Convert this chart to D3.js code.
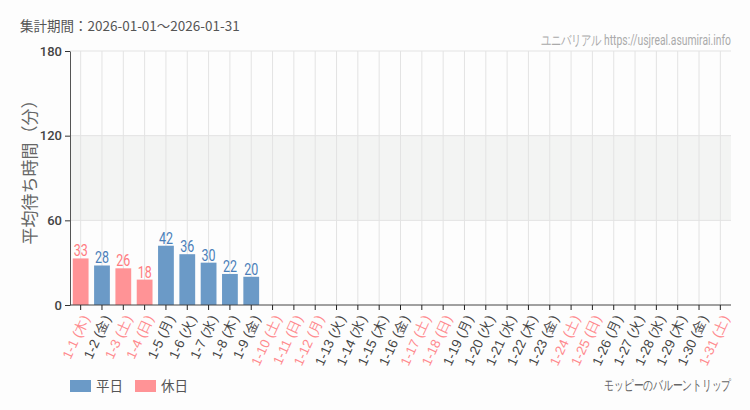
<!DOCTYPE html>
<html><head><meta charset="utf-8">
<script src="https://cdn.jsdelivr.net/npm/d3@7"></script>
<style>
html,body{margin:0;padding:0;background:#fdfdfd;}
svg{display:block;font-family:"Noto Sans CJK JP","Noto Sans",sans-serif;}
</style></head>
<body><svg id="c" width="750" height="410"></svg>
<script>
const dates = ["1-1","1-2","1-3","1-4","1-5","1-6","1-7","1-8","1-9","1-10","1-11","1-12","1-13","1-14","1-15","1-16","1-17","1-18","1-19","1-20","1-21","1-22","1-23","1-24","1-25","1-26","1-27","1-28","1-29","1-30","1-31"];
const weekdays = ["木","金","土","日","月","火","水","木","金","土","日","月","火","水","木","金","土","日","月","火","水","木","金","土","日","月","火","水","木","金","土"];
const holidays = [1,0,1,1,0,0,0,0,0,1,1,1,0,0,0,0,1,1,0,0,0,0,0,1,1,0,0,0,0,0,1];
const waits = [33,28,26,18,42,36,30,22,20,null,null,null,null,null,null,null,null,null,null,null,null,null,null,null,null,null,null,null,null,null,null];
const yTicks = [0,60,120,180];

const svg = d3.select("#c");
const W = 750, H = 410;
const m = {left:70, right:19, top:51, bottom:105};
const x = d3.scaleBand().domain(dates).range([m.left, W - m.right]).paddingInner(0.26).paddingOuter(0.13);
const y = d3.scaleLinear().domain([0,180]).range([H - m.bottom, m.top]);

const blue = "#6b9ac7", pink = "#ff9396";
const blueT = "#4a7fb9", pinkT = "#ff7b80";
const narrow = "'Roboto','Noto Sans',sans-serif";

// shaded band
svg.append("rect").attr("x", m.left).attr("width", W - m.right - m.left)
  .attr("y", y(120)).attr("height", y(60) - y(120)).attr("fill", "#f3f4f3");

// gridlines
const g = svg.append("g");
g.selectAll("line.v").data(dates).join("line")
  .attr("x1", d => x(d) + x.bandwidth()/2).attr("x2", d => x(d) + x.bandwidth()/2)
  .attr("y1", y(180)).attr("y2", y(0)).attr("stroke", "#e3e3e3").attr("stroke-width", 1);
g.selectAll("line.h").data(yTicks.filter(t => t > 0)).join("line")
  .attr("x1", m.left).attr("x2", W - m.right)
  .attr("y1", d => y(d)).attr("y2", d => y(d)).attr("stroke", "#e3e3e3");

// bars
const data = dates.map((d, i) => ({d, v: waits[i], h: holidays[i]})).filter(o => o.v != null);
svg.selectAll("rect.bar").data(data).join("rect")
  .attr("x", o => x(o.d)).attr("width", x.bandwidth())
  .attr("y", o => y(o.v)).attr("height", o => y(0) - y(o.v))
  .attr("fill", o => o.h ? pink : blue);
svg.selectAll("text.val").data(data).join("text")
  .attr("transform", o => `translate(${x(o.d) + x.bandwidth()/2},${y(o.v) - 2}) scale(0.78,1)`)
  .attr("text-anchor", "middle")
  .attr("font-family", narrow)
  .attr("font-size", 16)
  .attr("fill", o => o.h ? pinkT : blueT).text(o => o.v);

// y axis
const ya = svg.append("g").attr("transform", `translate(${m.left},0)`)
  .call(d3.axisLeft(y).tickValues(yTicks).tickSize(5).tickSizeOuter(0));
ya.select(".domain").attr("stroke", "#555");
ya.selectAll(".tick line").attr("stroke", "#333");
ya.selectAll("text").attr("font-family", "Roboto,sans-serif").attr("font-size", 13).attr("font-weight", 500).attr("fill", "#444");

// x axis
const xa = svg.append("g").attr("transform", `translate(0,${y(0)})`)
  .call(d3.axisBottom(x).tickSize(5).tickSizeOuter(0).tickFormat((d, i) => `${d} (${weekdays[i]})`));
xa.select(".domain").attr("stroke", "#444").attr("d", `M${m.left},0H${W - m.right}`);
xa.selectAll(".tick line").attr("stroke", "#222");
xa.selectAll("text")
  .attr("font-size", 13.5)
  .attr("fill", (d, i) => holidays[i] ? "#ff8a8e" : "#444")
  .attr("text-anchor", "end")
  .attr("transform", "translate(5,11) rotate(-65)")
  .attr("dy", "0.35em").attr("y", 0).attr("x", 0);

// y title
svg.append("text").attr("transform", `translate(36,168) rotate(-90)`)
  .attr("text-anchor", "middle").attr("font-size", 17).attr("fill", "#666")
  .text("平均待ち時間（分）");

// header
svg.append("text").attr("x", 20).attr("y", 31).attr("font-size", 13.5).attr("fill", "#555")
  .text("集計期間：2026-01-01～2026-01-31");
svg.append("text").attr("transform", `translate(${W - m.right},45) scale(0.74,1)`).attr("text-anchor", "end")
  .attr("font-family", narrow)
  .attr("font-size", 14).attr("fill", "#aaa")
  .text("ユニバリアル  https://usjreal.asumirai.info");

// legend
const legend = [{k:"平日", c:blue, x:70}, {k:"休日", c:pink, x:135}];
const lg = svg.selectAll("g.lg").data(legend).join("g").attr("transform", o => `translate(${o.x},380)`);
lg.append("rect").attr("width", 21).attr("height", 12).attr("fill", o => o.c);
lg.append("text").attr("x", 26).attr("y", 11).attr("font-size", 13.5).attr("fill", "#555").text(o => o.k);

svg.append("text").attr("transform", `translate(${W - m.right},390) scale(0.7,1)`).attr("text-anchor", "end")
  .attr("font-family", narrow)
  .attr("font-size", 14).attr("fill", "#666").text("モッピーのバルーントリップ");
</script></body></html>
